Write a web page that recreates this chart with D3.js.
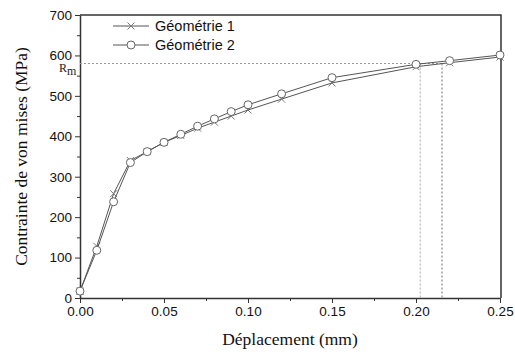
<!DOCTYPE html>
<html>
<head>
<meta charset="utf-8">
<script src="https://cdn.jsdelivr.net/npm/d3@7"></script>
<style>
  body { margin: 0; background: #fff; }
  svg { display: block; }
  .tick text { font-family: "Liberation Sans", Arial, sans-serif; font-size: 13.5px; fill: #111; }
</style>
</head>
<body>
<svg id="chart"></svg>
<script>
const width = 515;
const height = 354;
const margin = { top: 15, right: 14, bottom: 56, left: 80 };

const displacement = [0, 0.01, 0.02, 0.03, 0.04, 0.05, 0.06, 0.07, 0.08, 0.09, 0.10, 0.12, 0.15, 0.20, 0.22, 0.25];
const geometrie1 = [17, 128, 258, 340, 362, 385, 402, 420, 435, 450, 465, 492, 532, 572, 582, 596];
const geometrie2 = [17, 118, 238, 335, 362, 385, 405, 425, 443, 461, 478, 505, 545, 578, 587, 601];
const seriesNames = ["Géométrie 1", "Géométrie 2"];
const xTicks = [0, 0.05, 0.10, 0.15, 0.20, 0.25];
const yTicks = [0, 100, 200, 300, 400, 500, 600, 700];
const rm = 580;
const rmDisp = [0.2025, 0.2155];

const svg = d3.select("#chart")
    .attr("width", width)
    .attr("height", height);

const xScale = d3.scaleLinear()
    .domain([0, 0.25])
    .range([margin.left, 500]);

const yScale = d3.scaleLinear()
    .domain([0, 700])
    .range([height - margin.bottom, margin.top]);

const x0 = xScale(0), x1 = 501, y0 = yScale(0), y1 = yScale(700);

// frame (top + right)
svg.append("path")
    .attr("d", `M${x0},${y1}H${x1}V${y0}`)
    .attr("fill", "none")
    .attr("stroke", "#333")
    .attr("stroke-width", 1.5);

// minor ticks
const xMinor = d3.range(0.025, 0.25, 0.05);
svg.append("g")
    .attr("transform", `translate(0, ${y0})`)
    .call(d3.axisBottom(xScale).tickValues(xMinor).tickSize(3).tickFormat(""))
    .call(g => g.select(".domain").remove())
    .selectAll("line").attr("stroke", "#333");
const yMinor = d3.range(50, 700, 100);
svg.append("g")
    .attr("transform", `translate(${x0}, 0)`)
    .call(d3.axisLeft(yScale).tickValues(yMinor).tickSize(3).tickFormat(""))
    .call(g => g.select(".domain").remove())
    .selectAll("line").attr("stroke", "#333");

const xAxis = svg.append("g")
    .attr("transform", `translate(0, ${y0})`)
    .call(d3.axisBottom(xScale).tickValues(xTicks).tickSize(5).tickSizeOuter(0).tickPadding(3)
        .tickFormat(d3.format(".2f")));
xAxis.select(".domain").attr("stroke", "#333").attr("stroke-width", 1.5);
xAxis.selectAll("line").attr("stroke", "#333");

const yAxis = svg.append("g")
    .attr("transform", `translate(${x0}, 0)`)
    .call(d3.axisLeft(yScale).tickValues(yTicks).tickSize(5).tickSizeOuter(0).tickPadding(3));
yAxis.select(".domain").attr("stroke", "#333").attr("stroke-width", 1.5);
yAxis.selectAll("line").attr("stroke", "#333");

// Rm guide lines
svg.append("line")
    .attr("x1", x0).attr("x2", xScale(rmDisp[1]))
    .attr("y1", yScale(rm)).attr("y2", yScale(rm))
    .attr("stroke", "#999").attr("stroke-dasharray", "2,2");
rmDisp.forEach((d, i) => {
    svg.append("line")
        .attr("x1", xScale(d)).attr("x2", xScale(d))
        .attr("y1", yScale(rm)).attr("y2", y0)
        .attr("stroke", i ? "#777" : "#aaa").attr("stroke-dasharray", "2,2");
});

svg.append("text")
    .attr("x", x0 - 21)
    .attr("y", yScale(rm) + 8)
    .attr("font-family", "Liberation Serif, serif")
    .attr("font-size", 12)
    .attr("fill", "#222")
    .html('R<tspan dy="3" font-size="12">m</tspan>');

const line = d3.line()
    .x((d, i) => xScale(displacement[i]))
    .y(d => yScale(d));

// series
function drawSeries(values, marker) {
    svg.append("path")
        .datum(values)
        .attr("d", line)
        .attr("fill", "none")
        .attr("stroke", "#555")
        .attr("stroke-width", 1);
    const g = svg.append("g");
    values.forEach((v, i) => {
        const cx = xScale(displacement[i]), cy = yScale(v);
        if (marker === "x") {
            g.append("path")
                .attr("d", `M${cx - 3.5},${cy - 3.5}L${cx + 3.5},${cy + 3.5}M${cx - 3.5},${cy + 3.5}L${cx + 3.5},${cy - 3.5}`)
                .attr("stroke", "#777").attr("stroke-width", 1);
        } else {
            g.append("circle")
                .attr("cx", cx).attr("cy", cy).attr("r", 4)
                .attr("fill", "#fff").attr("stroke", "#666").attr("stroke-width", 1);
        }
    });
}
drawSeries(geometrie1, "x");
drawSeries(geometrie2, "o");

// legend
const legend = svg.append("g").attr("transform", "translate(113, 26)");
seriesNames.forEach((name, i) => {
    const y = i * 19;
    legend.append("line")
        .attr("x1", 0).attr("x2", 36).attr("y1", y).attr("y2", y)
        .attr("stroke", "#555");
    if (i === 0) {
        legend.append("path")
            .attr("d", `M14.5,${y - 3.5}L21.5,${y + 3.5}M14.5,${y + 3.5}L21.5,${y - 3.5}`)
            .attr("stroke", "#777");
    } else {
        legend.append("circle").attr("cx", 18).attr("cy", y).attr("r", 4)
            .attr("fill", "#fff").attr("stroke", "#666");
    }
    legend.append("text")
        .attr("x", 42).attr("y", y + 5)
        .attr("font-family", "Liberation Sans, Arial, sans-serif")
        .attr("font-size", 14.5)
        .attr("fill", "#111")
        .text(name);
});

// axis titles
svg.append("text")
    .attr("x", (x0 + 500) / 2)
    .attr("y", 345)
    .attr("text-anchor", "middle")
    .attr("font-family", "Liberation Serif, serif")
    .attr("font-size", 17.5)
    .attr("fill", "#111")
    .text("Déplacement (mm)");

svg.append("text")
    .attr("transform", `translate(27, ${(y0 + y1) / 2}) rotate(-90)`)
    .attr("text-anchor", "middle")
    .attr("font-family", "Liberation Serif, serif")
    .attr("font-size", 17.5)
    .attr("fill", "#111")
    .text("Contrainte de von mises (MPa)");
</script>
</body>
</html>
